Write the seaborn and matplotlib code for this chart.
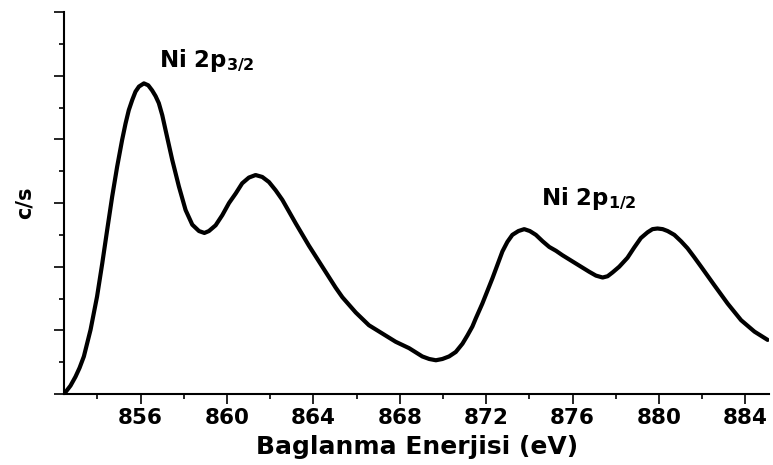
import numpy as np
import pandas as pd
import seaborn as sns
import matplotlib
matplotlib.use("Agg")
import matplotlib.pyplot as plt
from matplotlib.ticker import MultipleLocator, NullFormatter

# Ni 2p XPS spectrum (binding energy in eV, intensity in arbitrary c/s units)
binding_energy = [
    852.50, 852.75, 852.98, 853.17, 853.37, 853.68, 853.98, 854.22, 854.45, 854.68,
    854.91, 855.14, 855.30, 855.45, 855.61, 855.76, 855.92, 856.15, 856.35, 856.53,
    856.69, 856.84, 857.00, 857.15, 857.46, 857.77, 858.08, 858.39, 858.70, 858.95,
    859.16, 859.47, 859.78, 860.09, 860.40, 860.70, 861.01, 861.32, 861.63, 861.94,
    862.25, 862.56, 863.18, 863.79, 864.41, 865.03, 865.34, 865.96, 866.57, 867.19,
    867.81, 868.43, 869.04, 869.36, 869.67, 869.97, 870.28, 870.59, 870.90, 871.13,
    871.36, 871.52, 871.82, 872.29, 872.52, 872.75, 872.98, 873.21, 873.49, 873.76,
    874.02, 874.30, 874.61, 874.92, 875.23, 875.53, 876.15, 876.77, 877.08, 877.39,
    877.62, 877.85, 878.16, 878.54, 878.85, 879.16, 879.47, 879.70, 879.93, 880.17,
    880.40, 880.71, 881.02, 881.32, 881.63, 881.95, 882.56, 883.18, 883.80, 884.42,
    885.03,
]
intensity = [
    0.02, 0.13, 0.27, 0.41, 0.59, 1.01, 1.53, 2.05, 2.58, 3.10,
    3.57, 3.99, 4.25, 4.46, 4.62, 4.75, 4.83, 4.88, 4.85, 4.77,
    4.68, 4.57, 4.38, 4.15, 3.68, 3.26, 2.89, 2.66, 2.56, 2.53,
    2.56, 2.65, 2.81, 3.00, 3.15, 3.31, 3.40, 3.44, 3.41, 3.33,
    3.20, 3.05, 2.68, 2.33, 2.00, 1.67, 1.52, 1.28, 1.08, 0.95,
    0.82, 0.72, 0.59, 0.55, 0.53, 0.55, 0.59, 0.66, 0.79, 0.92,
    1.06, 1.19, 1.42, 1.82, 2.03, 2.24, 2.39, 2.50, 2.56, 2.59,
    2.56, 2.50, 2.40, 2.31, 2.25, 2.18, 2.05, 1.92, 1.86, 1.83,
    1.85, 1.91, 2.00, 2.14, 2.30, 2.45, 2.54, 2.59, 2.60, 2.59,
    2.56, 2.50, 2.40, 2.29, 2.15, 2.00, 1.71, 1.42, 1.16, 0.98,
    0.85,
]

peak_labels = [r"Ni 2p$_{3/2}$", r"Ni 2p$_{1/2}$"]
peak_label_pos = [(856.84, 5.14), (874.55, 2.97)]

x_ticks = [856, 860, 864, 868, 872, 876, 880, 884]

df = pd.DataFrame({"energy": binding_energy, "cps": intensity})

sns.set_style("ticks")
plt.rcParams["font.family"] = ["DejaVu Sans"]
plt.rcParams["font.weight"] = "bold"
plt.rcParams["mathtext.default"] = "regular"
for key in ("text.color", "axes.labelcolor", "xtick.color", "ytick.color",
            "axes.edgecolor"):
    plt.rcParams[key] = "black"

fig = plt.figure(figsize=(7.73, 4.65), dpi=100)
ax = fig.add_axes([0.0828, 0.1527, 0.9122, 0.8213])

sns.lineplot(data=df, x="energy", y="cps", ax=ax, color="black",
             linewidth=3.0, sort=False)
for ln in ax.get_lines():
    ln.set_solid_joinstyle("round")
    ln.set_solid_capstyle("round")

ax.set_xlim(852.45, 885.1)
ax.set_ylim(0, 6)

ax.set_xticks(x_ticks)
ax.xaxis.set_minor_locator(MultipleLocator(2))
ax.yaxis.set_major_locator(MultipleLocator(1))
ax.yaxis.set_minor_locator(MultipleLocator(0.5))
ax.yaxis.set_major_formatter(NullFormatter())

ax.tick_params(axis="both", which="major", length=7, width=1.2,
               color="black", direction="out")
ax.tick_params(axis="both", which="minor", length=3.5, width=1.2,
               color="black", direction="out")
ax.tick_params(axis="x", which="major", labelsize=15.5, pad=3)
for lbl in ax.get_xticklabels():
    lbl.set_fontweight("bold")

sns.despine(ax=ax)
for side in ("left", "bottom"):
    ax.spines[side].set_linewidth(1.5)

ax.set_xlabel("Baglanma Enerjisi (eV)", fontsize=18, fontweight="bold", labelpad=5)
ax.set_ylabel("c/s", fontsize=15, fontweight="bold", labelpad=11)

for text, (tx, ty) in zip(peak_labels, peak_label_pos):
    ax.text(tx, ty, text, fontsize=16.5, fontweight="bold", ha="left", va="baseline")

fig.savefig("out.png", dpi=100)
